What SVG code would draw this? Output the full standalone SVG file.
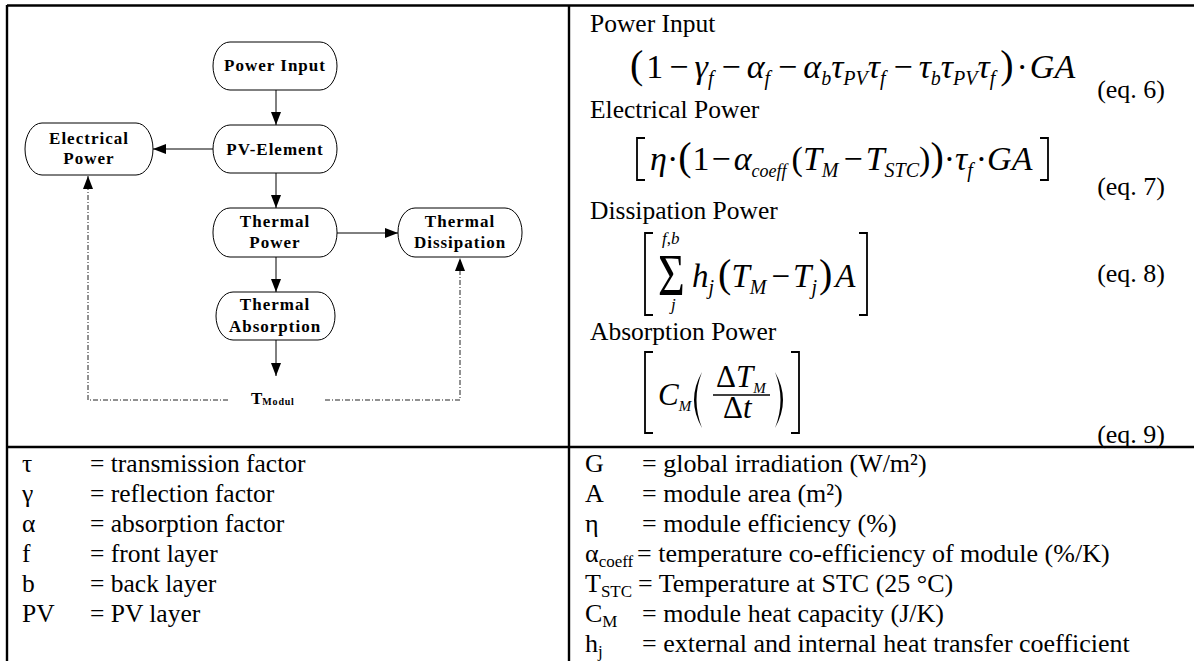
<svg xmlns="http://www.w3.org/2000/svg" width="1194" height="661" viewBox="0 0 1194 661">
<defs>
<style>
.frame{stroke:#000;stroke-width:2.4;fill:none}
.node rect{fill:#fff;stroke:#000;stroke-width:1}
.node text{font-family:"Liberation Serif","Times New Roman",serif;font-weight:bold;font-size:17px;letter-spacing:1px;text-anchor:middle;fill:#000}
.edge{stroke:#000;stroke-width:1;fill:none}
.dash{stroke:#222;stroke-width:1;fill:none;stroke-dasharray:5 2 1 2}
.lbl{font-family:"Liberation Serif","Times New Roman",serif;font-size:25.5px;fill:#000}
.rl{font-family:"Liberation Serif","Times New Roman",serif;font-size:26px;fill:#000}
.eq{font-family:"Liberation Serif","Times New Roman",serif;font-style:italic;font-size:34px;fill:#000}
.up{font-style:normal}
.big{font-size:40px}
.sub{font-size:20px}
.ssub{font-size:18px}
.lsub{font-size:17px}
.brk{stroke:#000;stroke-width:1.8;fill:none}
</style>
<marker id="ah" markerWidth="13" markerHeight="10" refX="13" refY="5" orient="auto" markerUnits="userSpaceOnUse"><path d="M0 0 L13 5 L0 10 Z" fill="#000"/></marker>
</defs>
<rect width="1194" height="661" fill="#fff"/>

<g id="table">
<line class="frame" x1="7" y1="5.5" x2="1194" y2="5.5"/>
<line class="frame" x1="7" y1="5" x2="7" y2="661"/>
<line class="frame" x1="569" y1="5" x2="569" y2="661"/>
<line class="frame" x1="7" y1="447" x2="1194" y2="447"/>
</g>

<g id="connectors">
<line class="edge" x1="276" y1="90" x2="276" y2="125" marker-end="url(#ah)"/>
<line class="edge" x1="213" y1="149" x2="153" y2="149" marker-end="url(#ah)"/>
<line class="edge" x1="276" y1="173" x2="276" y2="208" marker-end="url(#ah)"/>
<line class="edge" x1="337" y1="233" x2="398" y2="233" marker-end="url(#ah)"/>
<line class="edge" x1="276" y1="257" x2="276" y2="292" marker-end="url(#ah)"/>
<line class="edge" x1="276" y1="340" x2="276" y2="376" marker-end="url(#ah)"/>
<path class="dash" d="M228 400 H88 V176" marker-end="url(#ah)"/>
<path class="dash" d="M325 400 H460 V258" marker-end="url(#ah)"/>
</g>

<g id="node-power-input" class="node"><rect x="213" y="42" width="124" height="48" rx="17" ry="24"/><text x="275" y="71">Power Input</text></g>
<g id="node-pv-element" class="node"><rect x="213" y="125" width="124" height="48" rx="17" ry="24"/><text x="275" y="155">PV-Element</text></g>
<g id="node-electrical-power" class="node"><rect x="25" y="123" width="128" height="52" rx="17" ry="26"/><text x="89" y="144">Electrical</text><text x="89" y="164">Power</text></g>
<g id="node-thermal-power" class="node"><rect x="213" y="208" width="124" height="49" rx="17" ry="24"/><text x="275" y="227">Thermal</text><text x="275" y="248">Power</text></g>
<g id="node-thermal-dissipation" class="node"><rect x="398" y="208" width="124" height="49" rx="17" ry="24"/><text x="460" y="227">Thermal</text><text x="460" y="248">Dissipation</text></g>
<g id="node-thermal-absorption" class="node"><rect x="216" y="292" width="119" height="48" rx="17" ry="24"/><text x="275" y="310">Thermal</text><text x="275" y="332">Absorption</text></g>
<g id="node-tmodul"><text x="251" y="404" style="font-family:'Liberation Serif','Times New Roman',serif;font-weight:bold;font-size:17px">T<tspan style="font-size:10px;letter-spacing:0.8px" dy="1">Modul</tspan></text></g>

<g id="equations">
<text class="lbl" x="590" y="32">Power Input</text>
<text class="eq" x="630" y="78"><tspan class="up big">(</tspan><tspan class="up" dx="3">1</tspan><tspan class="up" dx="6">−</tspan><tspan dx="6">γ</tspan><tspan class="sub" dy="7">f</tspan><tspan class="up" dy="-7" dx="8">−</tspan><tspan dx="6">α</tspan><tspan class="sub" dy="7">f</tspan><tspan class="up" dy="-7" dx="8">−</tspan><tspan dx="6">α</tspan><tspan class="sub" dy="7">b</tspan><tspan dy="-7">τ</tspan><tspan class="sub" dy="7">PV</tspan><tspan dy="-7">τ</tspan><tspan class="sub" dy="7">f</tspan><tspan class="up" dy="-7" dx="8">−</tspan><tspan dx="6">τ</tspan><tspan class="sub" dy="7">b</tspan><tspan dy="-7">τ</tspan><tspan class="sub" dy="7">PV</tspan><tspan dy="-7">τ</tspan><tspan class="sub" dy="7">f</tspan><tspan class="up big" dy="-7" dx="5">)</tspan><tspan class="up" dx="3">·</tspan><tspan dx="2">GA</tspan></text>
<text class="rl" x="1165" y="98" text-anchor="end">(eq. 6)</text>

<text class="lbl" x="590" y="118">Electrical Power</text>
<path class="brk" d="M645 138 H637 V180 H645"/>
<text class="eq" x="650" y="170"><tspan>η</tspan><tspan class="up">·</tspan><tspan class="up big">(</tspan><tspan class="up" dx="1">1</tspan><tspan class="up" dx="2">−</tspan><tspan dx="3">α</tspan><tspan class="ssub" dy="7">coeff</tspan><tspan class="up" dy="-7" dx="5">(</tspan><tspan>T</tspan><tspan class="sub" dy="7">M</tspan><tspan class="up" dy="-7" dx="5">−</tspan><tspan dx="3">T</tspan><tspan class="sub" dy="7">STC</tspan><tspan class="up" dy="-7">)</tspan><tspan class="up big">)</tspan><tspan class="up">·</tspan><tspan>τ</tspan><tspan class="sub" dy="7">f</tspan><tspan class="up" dy="-7" dx="3">·</tspan><tspan>GA</tspan></text>
<path class="brk" d="M1040 138 H1048 V180 H1040"/>
<text class="rl" x="1165" y="195" text-anchor="end">(eq. 7)</text>

<text class="lbl" x="590" y="219">Dissipation Power</text>
<path class="brk" d="M653 233 H645 V315 H653"/>
<text class="eq up" transform="translate(658,295) scale(1,1.28)" style="font-size:46px">Σ</text>
<text class="eq" x="662" y="244" style="font-size:17px">f<tspan class="up">,</tspan>b</text>
<text class="eq" x="671" y="310" style="font-size:17px">j</text>
<text class="eq" x="692" y="287" style="font-size:33px"><tspan>h</tspan><tspan class="sub" dy="7">j</tspan><tspan class="up big" dy="-7" dx="4">(</tspan><tspan>T</tspan><tspan class="sub" dy="7">M</tspan><tspan class="up" dy="-7" dx="5">−</tspan><tspan dx="3">T</tspan><tspan class="sub" dy="7">j</tspan><tspan class="up big" dy="-7" dx="2">)</tspan><tspan dx="3">A</tspan></text>
<path class="brk" d="M859 233 H867 V315 H859"/>
<text class="rl" x="1165" y="282" text-anchor="end">(eq. 8)</text>

<text class="lbl" x="590" y="340">Absorption Power</text>
<path class="brk" d="M653 352 H645 V433 H653"/>
<text class="eq" x="658" y="405" style="font-size:31px"><tspan>C</tspan><tspan style="font-size:15px" dy="6">M</tspan></text>
<path d="M702 372 Q686 400 702 428 Q691 400 702 372 Z" fill="#000"/>
<text class="eq" x="716" y="387" style="font-size:31px"><tspan class="up">Δ</tspan><tspan>T</tspan><tspan style="font-size:15px" dy="6">M</tspan></text>
<line x1="713" y1="395" x2="770" y2="395" stroke="#000" stroke-width="1.5"/>
<text class="eq" x="723" y="418" style="font-size:31px"><tspan class="up">Δ</tspan><tspan>t</tspan></text>
<path d="M775 372 Q791 400 775 428 Q786 400 775 372 Z" fill="#000"/>
<path class="brk" d="M791 352 H799 V433 H791"/>
<text class="rl" x="1165" y="443" text-anchor="end">(eq. 9)</text>
</g>

<g id="legend-left" class="lbl">
<text x="22" y="472">τ</text><text x="90" y="472">= transmission factor</text>
<text x="22" y="502">γ</text><text x="90" y="502">= reflection factor</text>
<text x="22" y="532">α</text><text x="90" y="532">= absorption factor</text>
<text x="22" y="562">f</text><text x="90" y="562">= front layer</text>
<text x="22" y="592">b</text><text x="90" y="592">= back layer</text>
<text x="22" y="622">PV</text><text x="90" y="622">= PV layer</text>
</g>

<g id="legend-right" class="rl">
<text x="585" y="472">G</text><text x="642" y="472">= global irradiation (W/m²)</text>
<text x="585" y="502">A</text><text x="642" y="502">= module area (m²)</text>
<text x="585" y="532">η</text><text x="642" y="532">= module efficiency (%)</text>
<text x="585" y="562">α<tspan class="lsub" dy="5">coeff</tspan></text><text x="637" y="562">= temperature co-efficiency of module (%/K)</text>
<text x="585" y="592">T<tspan class="lsub" dy="5">STC</tspan></text><text x="638" y="592">= Temperature at STC (25 °C)</text>
<text x="585" y="622">C<tspan class="lsub" dy="5">M</tspan></text><text x="642" y="622">= module heat capacity (J/K)</text>
<text x="585" y="652">h<tspan class="lsub" dy="5">j</tspan></text><text x="642" y="652">= external and internal heat transfer coefficient</text>
</g>
</svg>
